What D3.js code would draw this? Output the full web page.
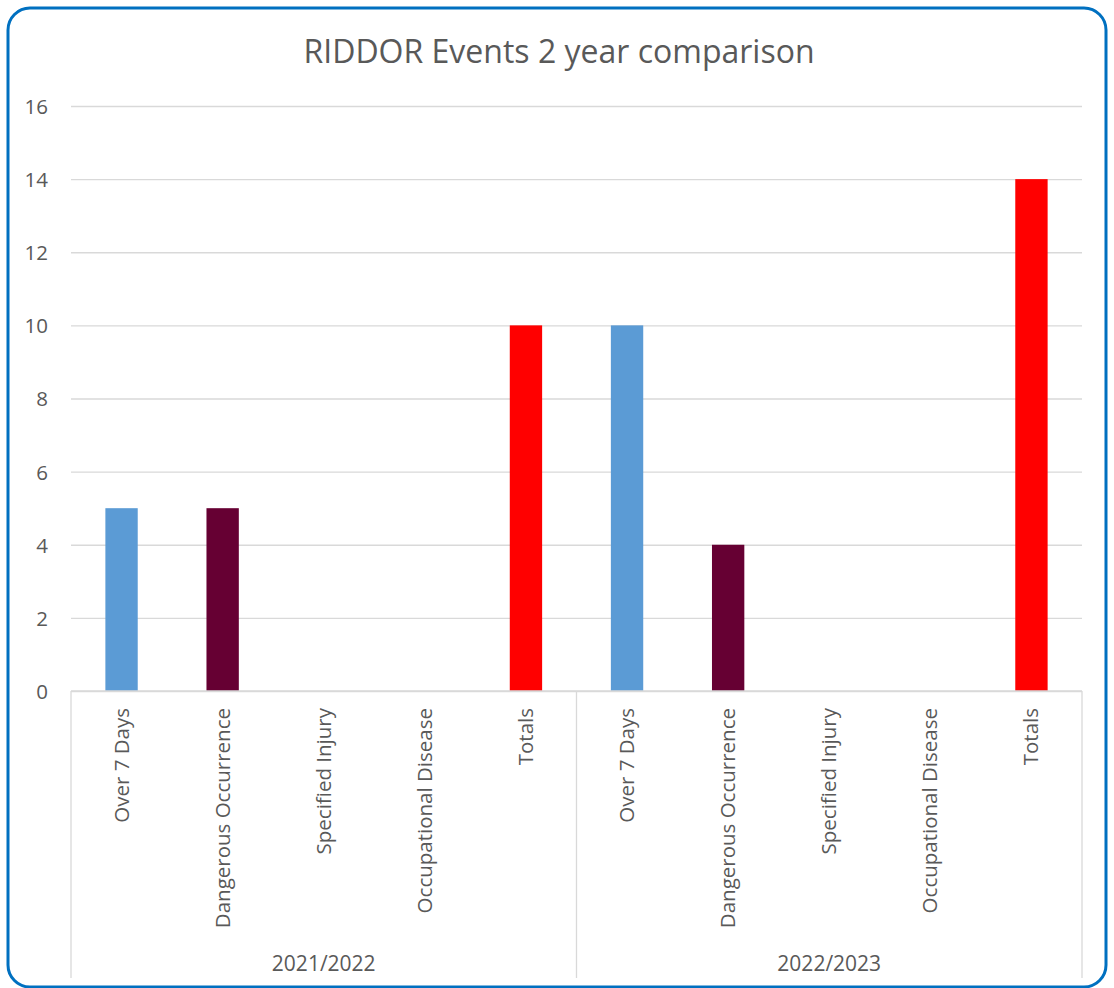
<!DOCTYPE html>
<html>
<head>
<meta charset="utf-8">
<script src="https://cdn.jsdelivr.net/npm/d3@7"></script>
<style>
  html, body { margin: 0; padding: 0; background: #fff; }
  svg { display: block; font-family: "Open Sans", "Noto Sans", sans-serif; }
</style>
</head>
<body>
<svg id="chart" width="1114" height="988"></svg>
<script>
// RIDDOR event counts by reporting year
const years = ["2021/2022", "2022/2023"];
const categories = ["Over 7 Days", "Dangerous Occurrence", "Specified Injury", "Occupational Disease", "Totals"];
const values2021 = [5, 5, 0, 0, 10];
const values2022 = [10, 4, 0, 0, 14];
const yTicks = [0, 2, 4, 6, 8, 10, 12, 14, 16];
const categoryColors = ["#5B9BD5", "#660033", "#A5A5A5", "#FFC000", "#FF0000"];

const rows = [];
[values2021, values2022].forEach((vals, gi) => {
  vals.forEach((v, ci) => rows.push({ year: years[gi], cat: categories[ci], ci, value: v, key: gi + "|" + ci }));
});

const svg = d3.select("#chart");
const W = 1114, H = 988;
const m = { left: 71, right: 1082, top: 106, bottom: 691 };

// Rounded frame
svg.append("rect")
  .attr("x", 8).attr("y", 8).attr("width", W - 16).attr("height", H - 9)
  .attr("rx", 22).attr("ry", 22)
  .attr("fill", "#fff").attr("stroke", "#0070C0").attr("stroke-width", 3);

// Title
svg.append("text")
  .attr("x", 559).attr("y", 63)
  .attr("text-anchor", "middle")
  .attr("font-size", 32)
  .attr("fill", "#595959")
  .text("RIDDOR Events 2 year comparison");

const x = d3.scaleBand()
  .domain(rows.map(d => d.key))
  .range([m.left, m.right])
  .paddingInner(0.68)
  .paddingOuter(0.34);

const y = d3.scaleLinear().domain([0, 16]).range([m.bottom, m.top]);

// Gridlines + y labels
const yAxis = d3.axisLeft(y).tickValues(yTicks).tickSize(-(m.right - m.left)).tickPadding(23).tickFormat(d3.format("d"));
const gy = svg.append("g").attr("transform", `translate(${m.left},0)`).call(yAxis);
gy.select(".domain").remove();
gy.selectAll(".tick line").attr("stroke", "#D9D9D9").attr("stroke-width", 1.3);
gy.selectAll(".tick text").attr("fill", "#595959").attr("font-size", 20.5)
  .attr("font-family", "\"Open Sans\", sans-serif").attr("dy", "0.36em");

// Bars
svg.append("g").selectAll("rect")
  .data(rows.filter(d => d.value > 0))
  .join("rect")
  .attr("x", d => x(d.key))
  .attr("width", x.bandwidth())
  .attr("y", d => y(d.value))
  .attr("height", d => y(0) - y(d.value))
  .attr("fill", d => categoryColors[d.ci]);

// Category axis: baseline and group separators
const axisG = svg.append("g").attr("stroke", "#D9D9D9").attr("stroke-width", 1.3);
axisG.append("line").attr("x1", m.left).attr("x2", m.right).attr("y1", y(0)).attr("y2", y(0));
const step = x.step();
const groupEdges = [m.left, m.left + step * categories.length, m.right];
groupEdges.forEach(gx => {
  axisG.append("line").attr("x1", gx).attr("x2", gx).attr("y1", y(0)).attr("y2", 978);
});

// Rotated category labels
svg.append("g").selectAll("text")
  .data(rows)
  .join("text")
  .attr("transform", d => `translate(${x(d.key) + x.bandwidth() / 2 + 7},${y(0) + 17}) rotate(-90)`)
  .attr("text-anchor", "end")
  .attr("font-size", 20.5)
  .attr("fill", "#595959")
  .text(d => d.cat);

// Year labels
svg.append("g").selectAll("text")
  .data(years)
  .join("text")
  .attr("x", (d, i) => (groupEdges[i] + groupEdges[i + 1]) / 2)
  .attr("y", 971)
  .attr("text-anchor", "middle")
  .attr("font-size", 21)
  .attr("fill", "#595959")
  .text(d => d);
</script>
</body>
</html>
